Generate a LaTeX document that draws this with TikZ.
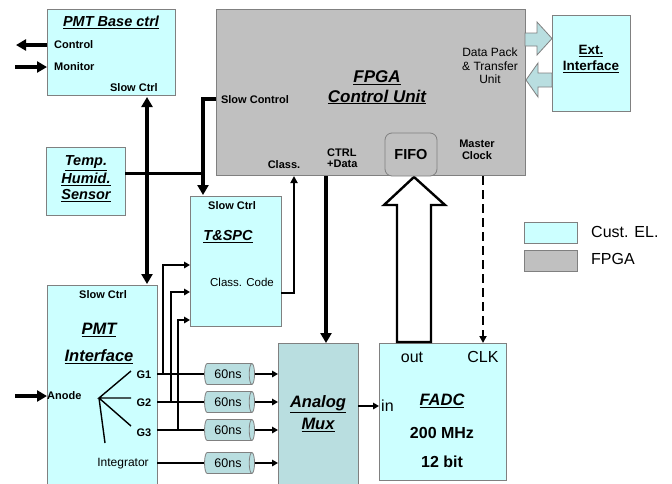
\documentclass[tikz,border=0pt]{standalone}
\usepackage{fontspec}
\setmainfont{Liberation Sans}
\usetikzlibrary{arrows.meta,shapes.geometric,calc}
\definecolor{cust}{HTML}{CCFFFF}
\definecolor{fpgag}{HTML}{C0C0C0}
\definecolor{muxc}{HTML}{B9DEE0}
\definecolor{edgec}{HTML}{808080}
\newcommand{\fsz}[1]{\fontsize{#1}{#1}\selectfont}
\begin{document}
\begin{tikzpicture}[x=1pt,y=-1pt,
  box/.style={draw=edgec, line width=0.8pt, inner sep=0pt, outer sep=0pt, anchor=north west},
  cbox/.style={box, fill=cust},
  ttl/.style={inner sep=0pt, font=\bfseries\itshape\fsz{14.5}},
  bigttl/.style={inner sep=0pt, font=\bfseries\itshape\fsz{16.5}},
  lbl/.style={inner sep=0pt, font=\bfseries\fsz{11}},
  rlbl/.style={inner sep=0pt, font=\fsz{11.5}},
  flbl/.style={inner sep=0pt, font=\fsz{16}},
  thk/.style={line width=3.6pt},
  thkarr/.style={thk, -{Triangle[length=10pt,width=11pt]}},
  sig/.style={line width=1.8pt},
  sigarr/.style={sig, -{Triangle[length=6pt,width=6.5pt]}},
  dly/.style={cylinder, draw=edgec, fill=muxc, line width=0.8pt, minimum height=50pt,
    minimum width=21pt, aspect=0.6, inner sep=0pt, font=\fsz{12.5}},
  blockarr/.style={draw=edgec, fill=muxc, line width=0.8pt, line join=miter}
]
\useasboundingbox (0,0) rectangle (672,483);
\fill[white] (0,0) rectangle (672,483);

% ---------- boxes ----------
\node[cbox, minimum width=128pt, minimum height=86pt] (pbase) at (47,9) {};
\node[box, fill=fpgag, minimum width=309pt, minimum height=166pt] (fpga) at (216,9) {};
\node[cbox, minimum width=78pt, minimum height=96pt] (ext) at (552,15) {};
\node[cbox, minimum width=79pt, minimum height=68pt] (sensor) at (46,147) {};
\node[cbox, minimum width=91pt, minimum height=130pt] (tspc) at (190,196) {};
\node[cbox, minimum width=110pt, minimum height=202pt] (pmti) at (47,285) {};
\node[box, fill=muxc, minimum width=80pt, minimum height=144pt] (mux) at (278,343) {};
\node[cbox, minimum width=127pt, minimum height=137pt] (fadc) at (379,343) {};
\node[box, fill=cust, minimum width=53pt, minimum height=21pt] (legc) at (524,222) {};
\node[box, fill=fpgag, minimum width=53pt, minimum height=21pt] (legf) at (524,250) {};

% ---------- PMT Base ctrl ----------
\node[ttl] (pbaset) at (111,22) {\underline{PMT Base ctrl}};
\node[lbl, anchor=west] (ctrl) at (54,45) {Control};
\node[lbl, anchor=west] (mon) at (54,67) {Monitor};
\node[lbl, anchor=east] (pbsc) at (158,88) {Slow Ctrl};
\coordinate (ctrlend) at (16,45);
\coordinate (monstart) at (15,67);
\draw[thkarr] (pbase.west |- ctrl) -- (ctrlend);
\draw[thkarr] (monstart) -- (pbase.west |- mon);

% ---------- FPGA ----------
\node[bigttl, font=\bfseries\itshape\fsz{17}] (fpgat1) at (377,78) {\underline{FPGA}};
\node[bigttl, font=\bfseries\itshape\fsz{17}] (fpgat2) at (377,97) {\underline{Control Unit}};
\node[inner sep=0pt, font=\fontsize{12}{13.3}\selectfont, align=center] (dpack) at (490,66)
  {Data Pack\\\&\ Transfer\\Unit};
\node[lbl] (fsc) at (255,100) {Slow Control};
\node[lbl] (fclass) at (284,165) {Class.};
\node[lbl, anchor=west, align=left] (fctrl) at (327,158) {CTRL\\[0.5pt]+Data};
\node[lbl, align=center] (mclk) at (477,150) {Master\\[1pt]Clock};

% ---------- hollow arrow FADC -> FIFO ----------
\draw[line width=2.4pt, fill=white, line join=miter]
  (397,342) -- (397,205) -- (384,205) -- (414,177) -- (445,205) -- (431,205) -- (431,342) -- cycle;
\node[draw=edgec, fill=fpgag, line width=0.8pt, rounded corners=7pt, minimum width=52pt,
  minimum height=43pt, inner sep=0pt, font=\bfseries\fsz{14.5}] (fifo) at (411,154.5) {FIFO};

% ---------- Ext interface ----------
\node[inner sep=0pt, font=\bfseries\fsz{13.5}, align=center] (extt) at (591,59)
  {\underline{Ext.}\\[3pt]\underline{Interface}};
\draw[blockarr] (525,33) -- (537,33) -- (537,22) -- (552,38.5) -- (537,55) -- (537,46) -- (525,46) -- cycle;
\draw[blockarr] (552,73) -- (538,73) -- (538,63) -- (526,80) -- (538,97) -- (538,87) -- (552,87) -- cycle;

% ---------- Sensor ----------
\node[ttl, align=center] (sent) at (86,179)
  {\underline{Temp.}\\[1.5pt]\underline{Humid.}\\[1.5pt]\underline{Sensor}};

% ---------- T&SPC ----------
\node[lbl] (tsc) at (232,206) {Slow Ctrl};
\node[ttl] (tspct) at (228,237) {\underline{T\&SPC}};
\node[rlbl] (tcc) at (242,282) {Class. Code};

% ---------- PMT Interface ----------
\node[lbl] (psc) at (103,295) {Slow Ctrl};
\node[bigttl] (pmtt1) at (99,330) {\underline{PMT}};
\node[bigttl] (pmtt2) at (99,357) {\underline{Interface}};
\node[lbl, anchor=west] (anode) at (47,396) {Anode};
\node[lbl] (g1) at (144,375) {G1};
\node[lbl] (g2) at (144,403) {G2};
\node[lbl] (g3) at (144,433) {G3};
\node[rlbl, font=\fsz{12}] (integ) at (123,464) {Integrator};
\coordinate (fan) at (99,398);
\coordinate (f1) at (131,371);
\coordinate (f2) at (131,398);
\coordinate (f3) at (131,426);
\coordinate (f4) at (105,443);
\draw[line width=1.4pt] (f1) -- (fan) -- (f2) (fan) -- (f3) (fan) -- (f4);
\coordinate (anstart) at (15,396);
\draw[thkarr] (anstart) -- (pmti.west |- anode);

% ---------- delay lines ----------
\node[dly] (d1) at (228,374) {60ns};
\node[dly] (d2) at (228,402) {60ns};
\node[dly] (d3) at (228,430) {60ns};
\node[dly] (d4) at (228,463) {60ns};
\foreach \d in {d1,d2,d3,d4} {
  \draw[sig] (pmti.east |- \d) -- (\d.west);
  \draw[sigarr] (\d.east) -- (mux.west |- \d);
}

% ---------- branches to T&SPC ----------
\coordinate (b1) at (163,374);
\coordinate (b2) at (171,402);
\coordinate (b3) at (178,430);
\coordinate (t1) at (190,265);
\coordinate (t2) at (190,292);
\coordinate (t3) at (190,320);
\draw[sigarr] (b1) |- (t1);
\draw[sigarr] (b2) |- (t2);
\draw[sigarr] (b3) |- (t3);

% ---------- Analog Mux / FADC ----------
\node[bigttl] (muxt1) at (318,404) {\underline{Analog}};
\node[bigttl] (muxt2) at (318,425) {\underline{Mux}};
\node[flbl] (out) at (412,357) {out};
\node[flbl] (clk) at (483,357) {CLK};
\node[flbl, anchor=west] (in) at (381,406) {in};
\node[bigttl] (fadct) at (442,401) {\underline{FADC}};
\node[inner sep=0pt, font=\bfseries\fsz{16}] (mhz) at (442,433) {200 MHz};
\node[inner sep=0pt, font=\bfseries\fsz{16}] (bit) at (442,462) {12 bit};
\draw[sigarr] (mux.east |- in) -- (fadc.west |- in);

% ---------- vertical buses ----------
\coordinate (sbus) at (147,97);
\coordinate (sbus2) at (147,284);
\draw[thk, {Triangle[length=10pt,width=11pt]}-{Triangle[length=10pt,width=11pt]}] (sbus) -- (sbus2);
\coordinate (scx) at (203,99);
\coordinate (scy) at (203,195);
\draw[thkarr] (fpga.west |- scx) -- (scx) -- (scy);
\coordinate (senj) at (203,173);
\draw[line width=3pt] (sensor.east |- senj) -- (senj);
\coordinate (ccx) at (294,293);
\coordinate (ccy) at (294,176);
\draw[sig, -{Triangle[length=7pt,width=7pt]}] (tspc.east |- ccx) -- (ccx) -- (ccy);
\coordinate (cdx) at (326,176);
\draw[thkarr] (cdx) -- (mux.north -| cdx);
\coordinate (mcx) at (483,176);
\draw[line width=2.2pt, dash pattern=on 9pt off 5pt, -{Triangle[length=7pt,width=7pt]}] (mcx) -- (fadc.north -| mcx);

% ---------- legend ----------
\node[inner sep=0pt, anchor=west, font=\fsz{16}] (legct) at (591,232) {Cust. EL.};
\node[inner sep=0pt, anchor=west, font=\fsz{16}] (legft) at (591,259) {FPGA};
\end{tikzpicture}
\end{document}
